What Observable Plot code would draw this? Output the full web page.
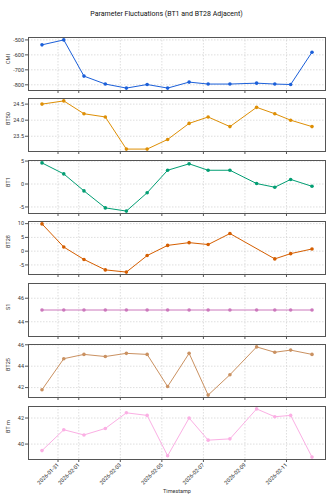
<!DOCTYPE html>
<html>
<head>
<meta charset="utf-8">
<script src="https://cdn.jsdelivr.net/npm/d3@7"></script>
<script src="https://cdn.jsdelivr.net/npm/@observablehq/plot@0.6"></script>
<style>
  html, body { margin: 0; padding: 0; background: #fff; }
  #wrap { width: 333px; height: 500px; overflow: hidden; font-family: Roboto, "Noto Sans", sans-serif; }
  #title { height: 32.5px; line-height: 28px; text-align: center; font-size: 7px; color: #111; }
  svg { display: block; }
</style>
</head>
<body>
<div id="wrap">
  <div id="title">Parameter Fluctuations (BT1 and BT28 Adjacent)</div>
  <div id="panels"></div>
</div>
<script>
// ---- data ----
const timestamps = [
  "2026-01-30T05:30Z", "2026-01-31T06:40Z", "2026-02-01T06:00Z", "2026-02-02T06:40Z",
  "2026-02-03T07:00Z", "2026-02-04T07:00Z", "2026-02-05T06:40Z", "2026-02-06T07:30Z",
  "2026-02-07T05:30Z", "2026-02-08T06:40Z", "2026-02-09T13:30Z", "2026-02-10T10:30Z",
  "2026-02-11T04:50Z", "2026-02-12T05:30Z"
];
const xTickLabels = ["2026-01-31", "2026-02-01", "2026-02-03", "2026-02-05", "2026-02-07", "2026-02-09", "2026-02-11"];

const cmi  = [-533, -500, -742, -795, -822, -798, -822, -782, -795, -795, -789, -795, -798, -582];
const bt50 = [24.5, 24.6, 24.2, 24.1, 23.1, 23.1, 23.4, 23.9, 24.1, 23.8, 24.4, 24.2, 24.0, 23.8];
const bt1  = [4.6, 2.2, -1.5, -5.2, -5.9, -1.9, 3.0, 4.4, 3.0, 3.0, 0.1, -0.7, 1.0, -0.5];
const bt28 = [9.9, 1.5, -3.0, -6.8, -7.6, -1.6, 2.1, 3.1, 2.4, 6.4, null, -2.8, -0.9, 0.8];
const s1   = [45, 45, 45, 45, 45, 45, 45, 45, 45, 45, 45, 45, 45, 45];
const bt25 = [41.8, 44.7, 45.1, 44.9, 45.2, 45.1, 42.1, 45.2, 41.3, 43.2, 45.8, 45.3, 45.5, 45.1];
const btm  = [39.5, 41.1, 40.7, 41.2, 42.4, 42.2, 39.1, 42.0, 40.3, 40.4, 42.7, 42.1, 42.2, 39.0];

const seriesNames = ["CMI", "BT50", "BT1", "BT28", "S1", "BT25", "BT m"];
const seriesValues = [cmi, bt50, bt1, bt28, s1, bt25, btm];
const seriesColors = ["#1b5fd9", "#de8f05", "#029e73", "#d55e00", "#cc78bc", "#ca9161", "#fbafe4"];
const yTickLabels = [
  [-800, -700, -600, -500],
  [23.5, 24.0, 24.5],
  [-5, 0, 5],
  [-5, 0, 5, 10],
  [44, 46],
  [42, 44, 46],
  [40, 42]
];
const yTickFormats = [null, ".1f", null, null, null, null, null];

// ---- build ----
const times = timestamps.map(s => new Date(s));
const xTicks = xTickLabels.map(s => new Date(s + "T00:00Z"));
const tExt = d3.extent(times);
const tPad = (tExt[1] - tExt[0]) * 0.05;
const xDomain = [new Date(+tExt[0] - tPad), new Date(+tExt[1] + tPad)];

function yDomainOf(vals) {
  const v = vals.filter(d => d != null);
  const [lo, hi] = d3.extent(v);
  if (hi - lo === 0) { const e = Math.abs(lo) * 0.05 || 1; return [lo - e, hi + e]; }
  const p = (hi - lo) * 0.05;
  return [lo - p, hi + p];
}

const panels = document.getElementById("panels");
const n = seriesNames.length;
seriesNames.forEach((name, i) => {
  const last = i === n - 1;
  const data = times.map((t, j) => ({t, v: seriesValues[i][j]})).filter(d => d.v != null);
  const color = seriesColors[i];
  const yt = yTickLabels[i];
  const fmt = yTickFormats[i] ? d3.format(yTickFormats[i]) : (d => d3.format("d")(d).replace("−", "-"));
  const marginTop = 4, frameH = 53, gapBottom = 4.5;
  const marginBottom = last ? 40 : gapBottom;
  const chart = Plot.plot({
    width: 333,
    height: marginTop + frameH + marginBottom,
    marginLeft: 28,
    marginRight: 8,
    marginTop,
    marginBottom,
    style: {fontSize: "5.5px", fontFamily: "Roboto, 'Noto Sans', sans-serif", color: "#333", background: "#fff"},
    x: {type: "utc", domain: xDomain},
    y: {domain: yDomainOf(seriesValues[i])},
    marks: [
      Plot.gridX(xTicks, {stroke: "#c8c8c8", strokeOpacity: 1, strokeWidth: 0.6, strokeDasharray: "1.5,1.5"}),
      Plot.gridY(yt, {stroke: "#c8c8c8", strokeOpacity: 1, strokeWidth: 0.6, strokeDasharray: "1.5,1.5"}),
      last
        ? Plot.axisX(xTicks, {tickSize: 3, tickPadding: 1.5, tickRotate: -45, tickFormat: d3.utcFormat("%Y-%m-%d"),
            label: "Timestamp", labelAnchor: "center", labelArrow: "none", labelOffset: 33, stroke: "#555"})
        : Plot.axisX(xTicks, {tickSize: 3, tickFormat: () => "", label: null, stroke: "#555"}),
      Plot.axisY(yt, {tickSize: 3, tickPadding: 1.5, tickFormat: fmt, label: null, stroke: "#555"}),
      Plot.text([name], {frameAnchor: "left", dx: -20, rotate: -90, fill: "#333", fontSize: 5.5}),
      Plot.line(data, {x: "t", y: "v", stroke: color, strokeWidth: 1}),
      Plot.dot(data, {x: "t", y: "v", fill: color, r: 1.8}),
      Plot.frame({stroke: "#555", strokeWidth: 1})
    ]
  });
  panels.appendChild(chart);
});
</script>
</body>
</html>
